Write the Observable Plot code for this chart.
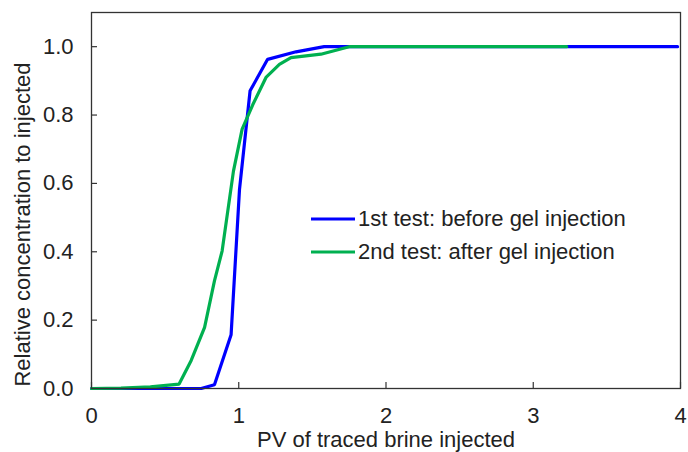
<!DOCTYPE html>
<html>
<head>
<meta charset="utf-8">
<script src="https://cdn.jsdelivr.net/npm/d3@7"></script>
<script src="https://cdn.jsdelivr.net/npm/@observablehq/plot@0.6"></script>
<style>
  html, body { margin: 0; padding: 0; background: #fff; }
  #wrap { position: relative; width: 688px; height: 452px; font-family: "Liberation Sans", Arial, sans-serif; color: #222; }
  .leg { position: absolute; left: 311px; display: flex; align-items: center; font-size: 22px; white-space: nowrap; }
  .leg svg { margin-right: 3px; }
</style>
</head>
<body>
<div id="wrap"></div>
<script>
// Series 1: 1st test (before gel injection)
const pv1 =   [0, 0.745, 0.835, 0.948, 1.005, 1.077, 1.196, 1.389, 1.58, 3.98];
const conc1 = [0, 0,     0.011, 0.157, 0.582, 0.871, 0.963, 0.985, 1.0,  1.0];
// Series 2: 2nd test (after gel injection)
const pv2 =   [0, 0.2,   0.4,   0.595, 0.677, 0.768, 0.835, 0.887, 0.964, 1.023, 1.095, 1.185, 1.276, 1.355, 1.558, 1.75, 3.227];
const conc2 = [0, 0.001, 0.005, 0.013, 0.082, 0.179, 0.315, 0.402, 0.636, 0.759, 0.83,  0.91,  0.948, 0.968, 0.978, 1.0,  1.0];
const seriesNames = ["1st test: before gel injection", "2nd test: after gel injection"];
const seriesColors = ["#0000ff", "#00b050"];
const xTicks = [0, 1, 2, 3, 4];
const yTicks = [0, 0.2, 0.4, 0.6, 0.8, 1.0];
const xLabel = "PV of traced brine injected";
const yLabel = "Relative concentration to injected";

const s1 = pv1.map((x, i) => ({x, y: conc1[i]}));
const s2 = pv2.map((x, i) => ({x, y: conc2[i]}));

const W = 688, H = 452, mL = 91, mR = 8, mT = 12, mB = 64;
const innerW = W - mL - mR, innerH = H - mT - mB;
const ink = "#222";

const chart = Plot.plot({
  width: W, height: H,
  marginLeft: mL, marginRight: mR, marginTop: mT, marginBottom: mB,
  style: {fontFamily: "'Liberation Sans', Arial, sans-serif", fontSize: "22px", color: ink, background: "white", overflow: "visible"},
  x: {domain: [0, 4]},
  y: {domain: [0, 1.1]},
  marks: [
    Plot.tickX(xTicks, {x: d => d, insetTop: innerH - 6, stroke: "#333", strokeWidth: 1.2}),
    Plot.tickY(yTicks, {y: d => d, insetRight: innerW - 6, stroke: "#333", strokeWidth: 1.2}),
    Plot.axisX(xTicks, {tickSize: 0, tickPadding: 19, tickFormat: d3.format("d"), label: null, fill: ink, fontSize: 22}),
    Plot.axisY(yTicks, {tickSize: 0, tickPadding: 18, tickFormat: d3.format(".1f"), label: null, fill: ink, fontSize: 22}),
    Plot.line(s1, {x: "x", y: "y", stroke: seriesColors[0], strokeWidth: 3.2, strokeLinejoin: "miter"}),
    Plot.line(s2, {x: "x", y: "y", stroke: seriesColors[1], strokeWidth: 3.2, strokeLinejoin: "miter"}),
    Plot.frame({stroke: "#333", strokeWidth: 1.3}),
    Plot.text([xLabel], {text: d => d, frameAnchor: "bottom", lineAnchor: "top", textAnchor: "middle", dy: 43, fill: ink, fontSize: 22}),
    Plot.text([yLabel], {text: d => d, frameAnchor: "left", lineAnchor: "top", textAnchor: "middle", rotate: -90, dx: -77, dy: 24, fill: ink, fontSize: 22})
  ]
});

const wrap = document.getElementById("wrap");
wrap.appendChild(chart);

// Legend overlay
const legTops = [219, 252];
seriesNames.forEach((name, i) => {
  const d = document.createElement("div");
  d.className = "leg";
  d.style.top = (legTops[i] - 13) + "px";
  d.style.height = "26px";
  d.innerHTML = `<svg width="44" height="6"><line x1="0" y1="3" x2="44" y2="3" stroke="${seriesColors[i]}" stroke-width="3.2"/></svg><span>${name}</span>`;
  wrap.appendChild(d);
});
</script>
</body>
</html>
